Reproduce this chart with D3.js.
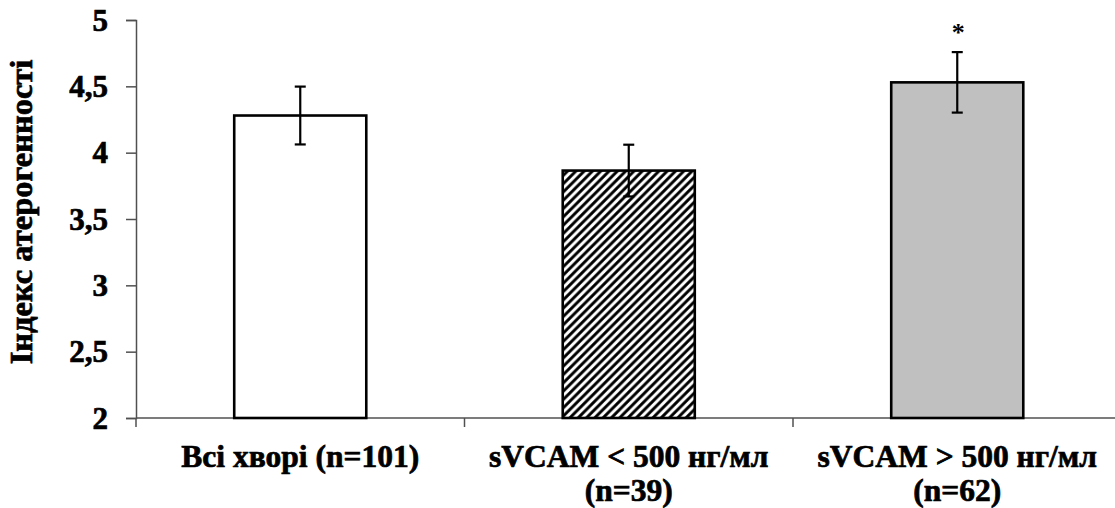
<!DOCTYPE html>
<html>
<head>
<meta charset="utf-8">
<script src="https://cdn.jsdelivr.net/npm/d3@7"></script>
<style>
  body { margin: 0; background: #fff; }
  svg { display: block; font-family: "Liberation Serif", "Times New Roman", serif; }
</style>
</head>
<body>
<div id="rootDiv"></div>
<script>
const width = 1115
const height = 508

const categories = ["Всі хворі (n=101)", "sVCAM < 500 нг/мл|(n=39)", "sVCAM > 500 нг/мл|(n=62)"]
const values = [4.28, 3.865, 4.53]
const errors = [0.218, 0.195, 0.228]
const fills = ["#ffffff", "url(#hatch)", "#c0c0c0"]
const marks = ["", "", "*"]
const yTicks = [2, 2.5, 3, 3.5, 4, 4.5, 5]
const yLabel = "Індекс атерогенності"

const margin = { left: 136, top: 20, bottom: 90 }
const plotRight = 1121.5

const svg = d3.select("#rootDiv")
    .append("svg")
    .attr("width", width)
    .attr("height", height)

// hatch pattern for the middle bar
const defs = svg.append("defs")
const hw = 8.3
const pat = defs.append("pattern")
    .attr("id", "hatch")
    .attr("patternUnits", "userSpaceOnUse")
    .attr("width", hw)
    .attr("height", hw)
pat.append("rect").attr("width", hw).attr("height", hw).attr("fill", "#fff")
pat.append("path")
    .attr("d", `M0,${hw} L${hw},0 M${-hw / 2},${hw / 2} L${hw / 2},${-hw / 2} M${hw / 2},${hw * 1.5} L${hw * 1.5},${hw / 2}`)
    .attr("stroke", "#000")
    .attr("stroke-width", 2.9)

const x = d3.scaleBand()
    .domain(categories)
    .range([margin.left, plotRight])
    .paddingInner(0)
    .paddingOuter(0)

const y = d3.scaleLinear()
    .domain([2, 5])
    .range([height - margin.bottom, margin.top])

const axisColor = "#505050"
const heavy = 0.7 // extra stroke so the bold serif looks as heavy as the original

// y axis
const yAxis = svg.append("g")
    .attr("transform", `translate(${margin.left},0)`)
    .call(d3.axisLeft(y).tickValues(yTicks).tickSize(10).tickPadding(18)
        .tickFormat(d => String(d).replace(".", ",")))
yAxis.select(".domain").attr("stroke", axisColor).attr("stroke-width", 1.5)
yAxis.selectAll(".tick line").attr("stroke", axisColor).attr("stroke-width", 1.5)
yAxis.selectAll(".tick text")
    .attr("fill", "#000")
    .attr("stroke", "#000")
    .attr("stroke-width", heavy)
    .attr("font-size", 31)
    .attr("font-weight", "bold")
    .attr("font-family", "Liberation Serif")
    .attr("dy", "0.33em")

// x axis line and boundary ticks
const xBase = y(2)
svg.append("line")
    .attr("x1", margin.left).attr("x2", plotRight)
    .attr("y1", xBase).attr("y2", xBase)
    .attr("stroke", axisColor).attr("stroke-width", 1.5)
const bounds = categories.map(c => x(c))
svg.selectAll(".xtick")
    .data(bounds)
    .enter()
    .append("line")
    .attr("class", "xtick")
    .attr("x1", d => d).attr("x2", d => d)
    .attr("y1", xBase).attr("y2", xBase + 9)
    .attr("stroke", axisColor).attr("stroke-width", 1.5)

// bars
const barW = x.bandwidth() * 0.402
svg.selectAll(".bar")
    .data(values)
    .enter()
    .append("rect")
    .attr("class", "bar")
    .attr("x", (d, i) => x(categories[i]) + x.bandwidth() / 2 - barW / 2)
    .attr("y", d => y(d))
    .attr("width", barW)
    .attr("height", d => y(2) - y(d))
    .attr("fill", (d, i) => fills[i])
    .attr("stroke", "#000")
    .attr("stroke-width", 2.6)

// error bars
const capW = 11
values.forEach((v, i) => {
    const cx = x(categories[i]) + x.bandwidth() / 2
    const g = svg.append("g").attr("stroke", "#000").attr("stroke-width", 2.2)
    g.append("line").attr("x1", cx).attr("x2", cx).attr("y1", y(v + errors[i])).attr("y2", y(v - errors[i]))
    g.append("line").attr("x1", cx - capW / 2).attr("x2", cx + capW / 2).attr("y1", y(v + errors[i])).attr("y2", y(v + errors[i]))
    g.append("line").attr("x1", cx - capW / 2).attr("x2", cx + capW / 2).attr("y1", y(v - errors[i])).attr("y2", y(v - errors[i]))
    if (marks[i]) {
        svg.append("text")
            .attr("x", cx + 1)
            .attr("y", y(v + errors[i]) - 11)
            .attr("text-anchor", "middle")
            .attr("font-size", 26)
            .attr("font-weight", "bold")
            .attr("font-family", "Liberation Serif")
            .attr("fill", "#000")
            .text(marks[i])
    }
})

// category labels
categories.forEach(c => {
    const t = svg.append("text")
        .attr("x", x(c) + x.bandwidth() / 2)
        .attr("y", 467)
        .attr("text-anchor", "middle")
        .attr("font-size", 31.5)
        .attr("font-weight", "bold")
        .attr("fill", "#000")
        .attr("stroke", "#000")
        .attr("stroke-width", heavy)
    c.split("|").forEach((line, k) => {
        t.append("tspan")
            .attr("x", x(c) + x.bandwidth() / 2)
            .attr("dy", k === 0 ? 0 : 33.5)
            .text(line)
    })
})

// y label
svg.append("text")
    .attr("transform", `translate(32, 212) rotate(-90)`)
    .attr("text-anchor", "middle")
    .attr("font-size", 32.5)
    .attr("font-weight", "bold")
    .attr("fill", "#000")
    .attr("stroke", "#000")
    .attr("stroke-width", heavy)
    .text(yLabel)
</script>
</body>
</html>
